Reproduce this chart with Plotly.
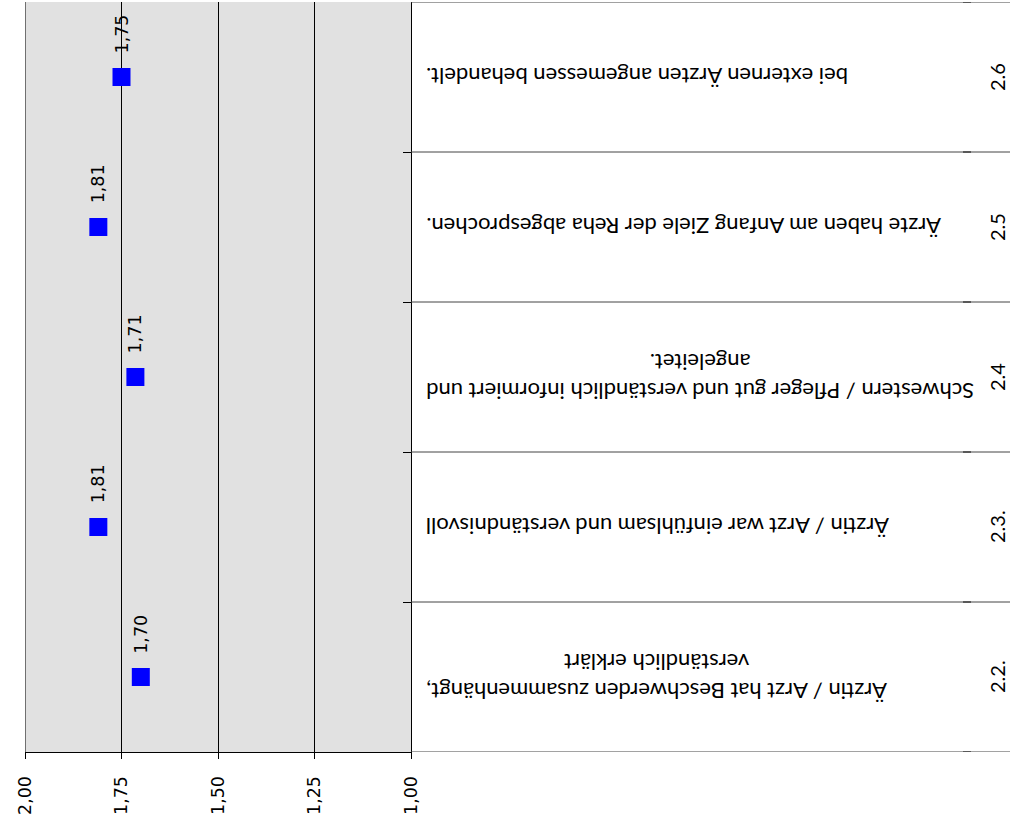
import plotly.graph_objects as go

# Data (top to bottom as displayed)
codes = ["2.6", "2.5", "2.4", "2.3.", "2.2."]
statements = [
    "bei externen Ärzten angemessen behandelt.",
    "Ärzte haben am Anfang Ziele der Reha abgesprochen.",
    "Schwestern / Pfleger gut und verständlich informiert und<br>angeleitet.",
    "Ärztin / Arzt war einfühlsam und verständnisvoll",
    "Ärztin / Arzt hat Beschwerden zusammenhängt,<br>verständlich erklärt",
]
values = [1.75, 1.81, 1.714, 1.81, 1.70]
tick_vals = [2.00, 1.75, 1.50, 1.25, 1.00]
tick_text = ["2,00", "1,75", "1,50", "1,25", "1,00"]

W, H = 1010, 832
L, R, T, B = 25, 599, 2, 80
plot_w = W - L - R


def px_to_paper(p):
    return (p - L) / plot_w


n = len(codes)
ypos = list(range(n))

fig = go.Figure()
fig.add_trace(go.Scatter(
    x=values, y=ypos, mode="markers",
    marker=dict(symbol="square", size=18, color="#0000FF", line=dict(width=0)),
    showlegend=False, hoverinfo="skip",
))

num_font = dict(family="DejaVu Sans", size=17.5, color="black")
txt_font = dict(family="Lato", size=22, color="black")
code_font = dict(family="Lato", size=20, color="black")

annotations = []
for v, yy in zip(values, ypos):
    annotations.append(dict(
        x=v, y=yy, xref="x", yref="y", text=f"{v:.2f}".replace(".", ","),
        showarrow=False, textangle=-90, yshift=43, font=num_font,
        xanchor="center", yanchor="middle",
    ))
for s, yy in zip(statements, ypos):
    annotations.append(dict(
        x=px_to_paper(424), y=yy, xref="paper", yref="y", text=s,
        showarrow=False, textangle=180, xanchor="left", yanchor="middle",
        align="center", font=txt_font,
    ))
for c, yy in zip(codes, ypos):
    annotations.append(dict(
        x=px_to_paper(997), y=yy, xref="paper", yref="y", text=c,
        showarrow=False, textangle=-90, xanchor="center", yanchor="middle",
        font=code_font,
    ))

shapes = []
# left border
shapes.append(dict(type="line", xref="x", yref="paper", x0=2.0, x1=2.0, y0=0, y1=1,
                   line=dict(color="black", width=1)))
# table row lines
for k in range(n + 1):
    yb = k - 0.5
    shapes.append(dict(type="line", xref="paper", yref="y",
                       x0=1.0, x1=px_to_paper(1010), y0=yb, y1=yb,
                       line=dict(color="#444444", width=1)))
    shapes.append(dict(type="line", xref="paper", yref="y",
                       x0=px_to_paper(963), x1=px_to_paper(971), y0=yb, y1=yb,
                       line=dict(color="#111111", width=1)))

fig.update_layout(
    width=W, height=H,
    margin=dict(l=L, r=R, t=T, b=B, pad=0),
    paper_bgcolor="white", plot_bgcolor="#E1E1E1",
    annotations=annotations, shapes=shapes,
    xaxis=dict(
        range=[2.0, 1.0], tickvals=tick_vals, ticktext=tick_text, tickangle=-90,
        showgrid=True, gridcolor="black", gridwidth=1, zeroline=False,
        showline=True, linecolor="black", linewidth=1,
        ticks="outside", ticklen=6, tickcolor="black", tickwidth=1,
        tickfont=num_font, ticklabelstandoff=10,
    ),
    yaxis=dict(
        range=[n - 0.5, -0.5], side="right", showgrid=False, zeroline=False,
        showline=True, linecolor="black", linewidth=1,
        tickvals=[k - 0.5 for k in range(n + 1)], showticklabels=False,
        ticks="inside", ticklen=8, tickcolor="black", tickwidth=1,
    ),
)

fig.write_html("out.html", config={"displayModeBar": False},
               post_script="document.body.style.margin='0';")
